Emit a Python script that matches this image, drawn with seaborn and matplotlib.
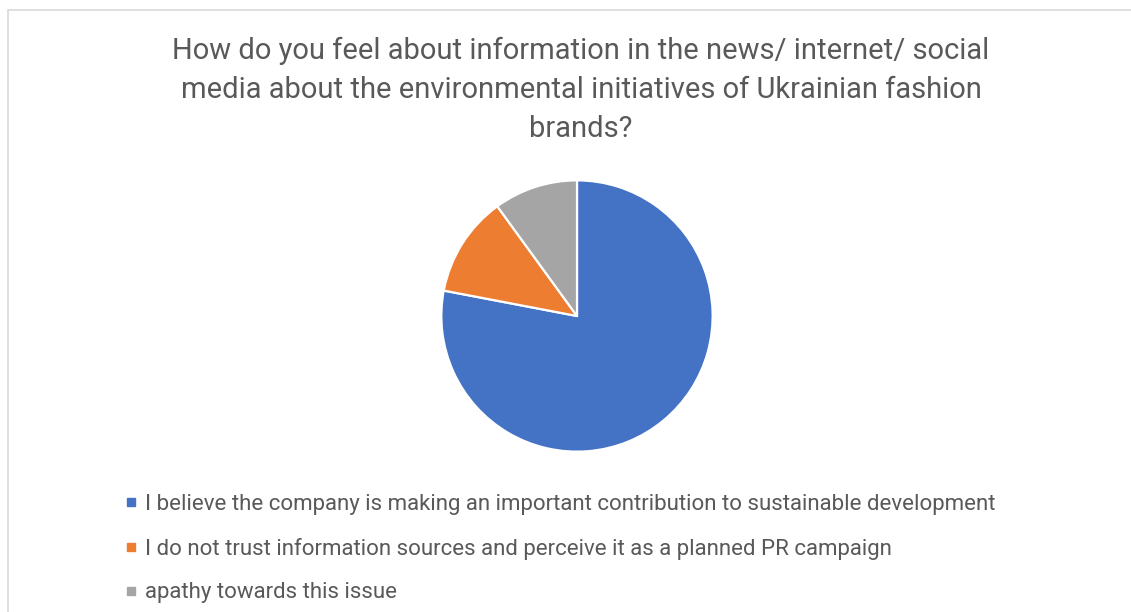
import matplotlib
matplotlib.use("Agg")
import matplotlib.pyplot as plt
from matplotlib.patches import Rectangle
from matplotlib.lines import Line2D
import seaborn as sns

# Survey answers and their shares (%)
categories = [
    "I believe the company is making an important contribution to sustainable development",
    "I do not trust information sources and perceive it as a planned PR campaign",
    "apathy towards this issue",
]
shares = [78, 12, 10]
title = ("How do you feel about information in the news/ internet/ social\n"
         "media about the environmental initiatives of Ukrainian fashion\n"
         "brands?")

sns.set_theme(style="white")
plt.rcParams["font.family"] = ["Liberation Sans Narrow", "Roboto", "DejaVu Sans"]

colors = sns.color_palette(["#4472C4", "#ED7D31", "#A5A5A5"])
text_color = "#595959"

W, H = 1131, 612
fig = plt.figure(figsize=(W / 100, H / 100), dpi=100)
fig.patch.set_facecolor("white")

# chart-area frame
fig.patches.append(Rectangle((8 / W, -0.1), (W + 10 - 8) / W, 1.1 - 10 / H,
                             transform=fig.transFigure, fill=False,
                             edgecolor="#d9d9d9", linewidth=1.2))

# pie, drawn clockwise from 12 o'clock
cx, cy, r = 577, 316, 137
ax = fig.add_axes([(cx - r) / W, (H - cy - r) / H, 2 * r / W, 2 * r / H])
ax.pie(shares, colors=colors, startangle=90, counterclock=False, radius=1,
       wedgeprops=dict(edgecolor="white", linewidth=1.6))
ax.set_xlim(-1.01, 1.01)
ax.set_ylim(-1.01, 1.01)
ax.axis("off")

fig.text(581 / W, 1 - 37 / H, title, ha="center", va="top", fontsize=21,
         color=text_color, linespacing=1.49)

handles = [Line2D([], [], linestyle="none", marker="s", markersize=5.5,
                  markerfacecolor=c, markeredgecolor=c) for c in colors]
leg = fig.legend(handles, categories, loc="upper left",
                 bbox_to_anchor=(124 / W, 1 - 494 / H), frameon=False,
                 fontsize=16, labelcolor=text_color, handlelength=0.6,
                 handletextpad=0.35, labelspacing=1.02, borderpad=0,
                 borderaxespad=0)

fig.savefig("out.png", dpi=100, facecolor="white")
